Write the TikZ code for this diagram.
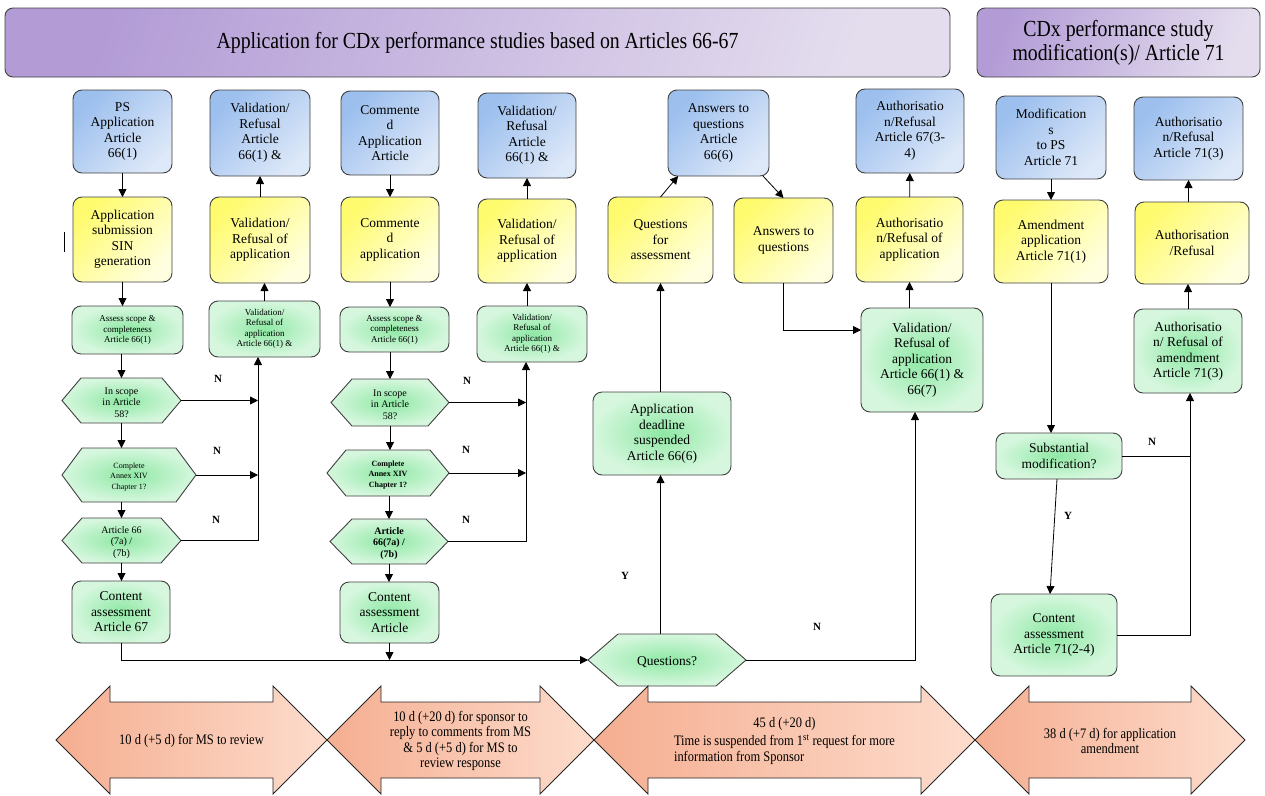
\documentclass[tikz,border=0pt]{standalone}
\usepackage{fontspec}
\setmainfont{Liberation Serif}
\newfontfamily\condfont[FakeStretch=0.86]{Liberation Serif}
\usetikzlibrary{arrows.meta,calc}
\definecolor{c9cbfee}{RGB}{156,191,238}
\definecolor{cdde8f8}{RGB}{221,232,248}
\definecolor{cfffb6e}{RGB}{255,251,110}
\definecolor{cffffe0}{RGB}{255,255,224}
\definecolor{c8ee8a4}{RGB}{142,232,164}
\definecolor{cd6f7de}{RGB}{214,247,222}
\definecolor{cb39cd6}{RGB}{179,156,214}
\definecolor{ce4ddee}{RGB}{228,221,238}
\definecolor{cf5ae91}{RGB}{245,174,145}
\definecolor{cfddccc}{RGB}{253,220,204}
\definecolor{c404040}{RGB}{64,64,64}
\definecolor{c262626}{RGB}{38,38,38}

\tikzset{
  box/.style={draw=c404040, line width=0.9pt, rounded corners=9pt, align=center, font=\fontsize{13.5}{15.5}\selectfont},
  bluebox/.style={box, top color=c9cbfee, bottom color=cdde8f8, shading angle=45},
  yellowbox/.style={box, top color=cfffb6e, bottom color=cffffe0, shading angle=45},
  greenbox/.style={box, inner color=c8ee8a4, outer color=cd6f7de},
  smallgreen/.style={greenbox, font=\fontsize{9}{10.5}\selectfont},
  headbox/.style={draw=c404040, line width=0.9pt, rounded corners=8pt, align=center, top color=cb39cd6, bottom color=ce4ddee, shading angle=70, font=\condfont\fontsize{23}{24}\selectfont},
  hexbox/.style={rectangle, draw=none},
  hexfill/.style={draw=c404040, line width=0.9pt, inner color=c8ee8a4, outer color=cd6f7de},
  hextext/.style={align=center, font=\fontsize{10}{11.5}\selectfont},
  hexsmall/.style={align=center, font=\fontsize{8}{10.5}\selectfont},
  hexbold/.style={align=center, font=\bfseries\fontsize{10}{11.5}\selectfont},
  hexsmallbold/.style={align=center, font=\bfseries\fontsize{8}{10.5}\selectfont},
  hexbig/.style={align=center, font=\fontsize{13.5}{15.5}\selectfont},
  timefill/.style={draw=c262626, line width=0.9pt, left color=cf5ae91, right color=cfddccc},
  timetext/.style={align=center, font=\condfont\fontsize{14.5}{15.5}\selectfont},
  arr/.style={draw=black, line width=0.8pt, -{Triangle[length=8pt,width=8pt]}},
  link/.style={draw=black, line width=0.8pt},
  yn/.style={font=\bfseries\fontsize{11}{12}\selectfont},
}

% hexagon decision: name, centre, width, height, chamfer, text style, text
\newcommand{\hexnode}[7]{%
  \node[hexbox, minimum width=#3pt, minimum height=#4pt] (#1) at (#2) {};
  \shade[hexfill] (#1.west) -- ($(#1.north west)+(#5,0)$) -- ($(#1.north east)-(#5,0)$) -- (#1.east)
    -- ($(#1.south east)-(#5,0)$) -- ($(#1.south west)+(#5,0)$) -- cycle;
  \node[#6] (#1-t) at ($(#1.center)+(0,2)$) {#7};
}
% time double arrow: name, left tip, right tip, text
\newcommand{\timearrow}[4]{%
  \shade[timefill] (#2,740) -- (#2+54,686) -- (#2+54,702) -- (#3-54,702) -- (#3-54,686) -- (#3,740)
    -- (#3-54,794) -- (#3-54,778) -- (#2+54,778) -- (#2+54,794) -- cycle;
  \node[timetext] (#1) at ({(#2+#3)/2},741) {#4};
}

\begin{document}
\begin{tikzpicture}[y=1pt, x=1pt, yscale=-1, inner sep=0pt, outer sep=0pt]
  \useasboundingbox (0,0) rectangle (1265,795);

  % headers
  \node[headbox, minimum width=945pt, minimum height=69pt] (headL) at (477.5,42.5)
    {Application for CDx performance studies based on Articles 66-67};
  \node[headbox, minimum width=283pt, minimum height=69pt] (headR) at (1118.5,42.5)
    {CDx performance study\\modification(s)/ Article 71};

  % first column
  \node[bluebox, minimum width=99pt, minimum height=83pt] (ps1) at (122.5,131.5) {PS\\Application\\Article\\66(1)};
  \node[yellowbox, minimum width=99pt, minimum height=85pt] (sub1) at (122.5,239.5) {Application\\submission\\SIN\\generation};
  \node[smallgreen, minimum width=111pt, minimum height=48pt] (assess1) at (127.5,330) {Assess scope \&\\completeness\\Article 66(1)};
  \hexnode{scope1}{121.5,400.5}{119}{45}{19}{hextext}{In scope\\in Article\\58?}
  \hexnode{compl1}{129,475}{134}{54}{20}{hexsmall}{Complete\\Annex XIV\\Chapter 1?}
  \hexnode{art1}{121.5,540.5}{119}{45}{20}{hextext}{Article 66\\(7a) /\\(7b)}
  \node[greenbox, minimum width=98pt, minimum height=62pt] (content1) at (121,612) {Content\\assessment\\Article 67};
  \draw[link] (64,232) -- (64,252);

  \node[bluebox, minimum width=100pt, minimum height=86pt] (valb1) at (260,133) {Validation/\\Refusal\\Article\\66(1) \&};
  \node[yellowbox, minimum width=100pt, minimum height=86pt] (valy1) at (260,240) {Validation/\\Refusal of\\application};
  \node[smallgreen, minimum width=111pt, minimum height=56pt] (val1s) at (264.5,329) {Validation/\\Refusal of\\application\\Article 66(1) \&};

  % second column
  \node[bluebox, minimum width=98pt, minimum height=84pt] (com2b) at (390,133) {Commente\\d\\Application\\Article};
  \node[yellowbox, minimum width=98pt, minimum height=85pt] (com2y) at (390,239.5) {Commente\\d\\application};
  \node[smallgreen, minimum width=109pt, minimum height=45pt] (assess2) at (394.5,329.5) {Assess scope \&\\completeness\\Article 66(1)};
  \hexnode{scope2}{390,402.5}{118}{47}{21}{hextext}{In scope\\in Article\\58?}
  \hexnode{compl2}{388,473}{122}{46}{19}{hexsmallbold}{Complete\\Annex XIV\\Chapter 1?}
  \hexnode{art2}{389,541.5}{118}{45}{22}{hexbold}{Article\\66(7a) /\\(7b)}
  \node[greenbox, minimum width=99pt, minimum height=61pt] (content2) at (389.5,612.5) {Content\\assessment\\Article};

  \node[bluebox, minimum width=98pt, minimum height=85pt] (valb2) at (527,135.5) {Validation/\\Refusal\\Article\\66(1) \&};
  \node[yellowbox, minimum width=98pt, minimum height=84pt] (valy2) at (527,241) {Validation/\\Refusal of\\application};
  \node[smallgreen, minimum width=110pt, minimum height=56pt] (val2s) at (532,334) {Validation/\\Refusal of\\application\\Article 66(1) \&};

  % questions
  \node[yellowbox, minimum width=105pt, minimum height=86pt] (qfa) at (660.5,240) {Questions\\for\\assessment};
  \node[bluebox, minimum width=101pt, minimum height=86pt] (ansb) at (718.5,133) {Answers to\\questions\\Article\\66(6)};
  \node[yellowbox, minimum width=99pt, minimum height=85pt] (ansy) at (783.5,240.5) {Answers to\\questions};
  \node[greenbox, minimum width=138pt, minimum height=83pt] (deadline) at (662,433.5) {Application\\deadline\\suspended\\Article 66(6)};
  \hexnode{questions}{667,660}{158}{52}{30}{hexbig}{Questions?}
  \node[greenbox, minimum width=122pt, minimum height=104pt] (val3) at (922,360) {Validation/\\Refusal of\\application\\Article 66(1) \&\\66(7)};
  \node[yellowbox, minimum width=107pt, minimum height=85pt] (authy3) at (909.5,239.5) {Authorisatio\\n/Refusal of\\application};
  \node[bluebox, minimum width=108pt, minimum height=84pt] (authb3) at (910,131) {Authorisatio\\n/Refusal\\Article 67(3-\\4)};

  % modification column
  \node[bluebox, minimum width=110pt, minimum height=83pt] (modb) at (1051,137.5) {Modification\\s\\to PS\\Article 71};
  \node[yellowbox, minimum width=114pt, minimum height=83pt] (amendy) at (1051,241.5) {Amendment\\application\\Article 71(1)};
  \node[greenbox, minimum width=126pt, minimum height=46pt] (subst) at (1059,456) {Substantial\\modification?};
  \node[greenbox, minimum width=126pt, minimum height=82pt] (content4) at (1054,635) {Content\\assessment\\Article 71(2-4)};
  \node[greenbox, minimum width=108pt, minimum height=84pt] (auth4g) at (1188,351) {Authorisatio\\n/ Refusal of\\amendment\\Article 71(3)};
  \node[yellowbox, minimum width=114pt, minimum height=82pt] (auth4y) at (1192,243) {Authorisation\\/Refusal};
  \node[bluebox, minimum width=109pt, minimum height=83pt] (auth4b) at (1188.5,138.5) {Authorisatio\\n/Refusal\\Article 71(3)};

  % connectors
  \coordinate (bus1) at (258,0);
  \coordinate (bus2) at (526,0);
  \coordinate (bus3) at (915,0);
  \coordinate (bus4) at (1190,0);
  \coordinate (flow) at (0,660);
  \coordinate (ansin) at ($(val3.west)+(0,-30)$);

  \draw[arr] (ps1) -- (sub1);
  \draw[arr] (sub1.south) -- (sub1.south |- assess1.north);
  \draw[arr] (scope1.north |- assess1.south) -- (scope1.north);
  \draw[arr] (scope1.south) -- (scope1.south |- compl1.north);
  \draw[arr] (art1.north |- compl1.south) -- (art1.north);
  \draw[arr] (art1.south) -- (art1.south |- content1.north);
  \draw[arr] (scope1.east) -- (scope1.east -| bus1);
  \draw[arr] (compl1.east) -- (compl1.east -| bus1);
  \draw[arr] (art1.east) -- (art1.east -| bus1) -- (val1s.south -| bus1);
  \draw[arr] (val1s.north) -- (val1s.north |- valy1.south);
  \draw[arr] (valy1) -- (valb1);

  \draw[arr] (com2b) -- (com2y);
  \draw[arr] (com2y.south) -- (com2y.south |- assess2.north);
  \draw[arr] (scope2.north |- assess2.south) -- (scope2.north);
  \draw[arr] (scope2.south) -- (scope2.south |- compl2.north);
  \draw[arr] (art2.north |- compl2.south) -- (art2.north);
  \draw[arr] (art2.south) -- (art2.south |- content2.north);
  \draw[arr] (scope2.east) -- (scope2.east -| bus2);
  \draw[arr] (compl2.east) -- (compl2.east -| bus2);
  \draw[arr] (art2.east) -- (art2.east -| bus2) -- (val2s.south -| bus2);
  \draw[arr] (val2s.north -| valy2) -- (valy2.south);
  \draw[arr] (valy2) -- (valb2);

  \draw[arr] (content1.south) -- (content1.south |- flow) -- (questions.west);
  \draw[arr] (content2.south) -- (content2.south |- flow);

  \draw[arr] (questions.north -| qfa) -- (qfa.south |- deadline.south);
  \draw[arr] (deadline.north -| qfa) -- (qfa.south);
  \draw[arr] (qfa.north) -- ($(ansb.south west)!0.1!(ansb.south east)$);
  \draw[arr] ($(ansb.south west)!0.94!(ansb.south east)$) -- (ansy.north);
  \draw[arr] (ansy.south) -- (ansy.south |- ansin) -- (ansin);
  \draw[arr] (questions.east) -- (questions.east -| bus3) -- (val3.south -| bus3);
  \draw[arr] (val3.north -| authy3) -- (authy3.south);
  \draw[arr] (authy3) -- (authb3);

  \draw[arr] (modb) -- (amendy);
  \draw[arr] (amendy.south) -- (amendy.south |- subst.north);
  \draw[arr] ($(subst.south)+(-2,0)$) -- ($(content4.north)+(-4,0)$);
  \draw[arr] (content4.east) -- (content4.east -| bus4) -- (auth4g.south -| bus4);
  \draw[link] (subst.east) -- (subst.east -| bus4);
  \draw[arr] (auth4g.north) -- (auth4g.north |- auth4y.south);
  \draw[arr] (auth4y.north -| auth4b) -- (auth4b.south);

  % answer labels
  \node[yn] (n1) at (218,379) {N};
  \node[yn] (n2) at (217,451) {N};
  \node[yn] (n3) at (216,520) {N};
  \node[yn] (n4) at (467,381) {N};
  \node[yn] (n5) at (466,450) {N};
  \node[yn] (n6) at (466,520) {N};
  \node[yn] (y1) at (625,576) {Y};
  \node[yn] (n7) at (817,627) {N};
  \node[yn] (n8) at (1152,442) {N};
  \node[yn] (y2) at (1068,516) {Y};

  % time frames
  \timearrow{time1}{56}{327}{10 d (+5 d) for MS to review}
  \timearrow{time2}{327}{594}{10 d (+20 d) for sponsor to\\reply to comments from MS\\\& 5 d (+5 d) for MS to\\review response}
  \timearrow{time3}{594}{975}{\begin{tabular}{@{}l@{}}\multicolumn{1}{@{}c@{}}{45 d (+20 d)}\\[3pt]Time is suspended from 1\textsuperscript{st} request for more\\information from Sponsor\end{tabular}}
  \timearrow{time4}{975}{1245}{38 d (+7 d) for application\\amendment}
\end{tikzpicture}
\end{document}
